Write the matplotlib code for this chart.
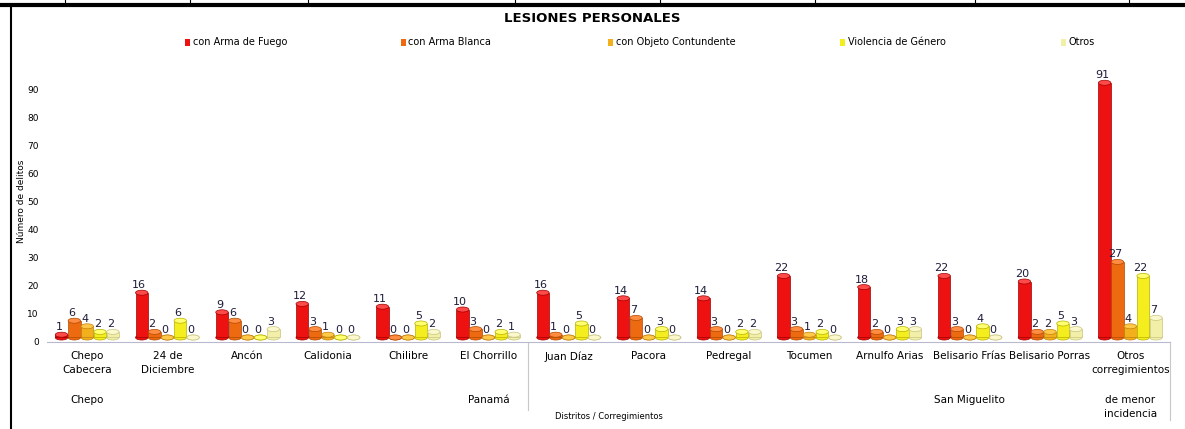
import numpy as np
import matplotlib.pyplot as plt
from matplotlib.patches import Rectangle, Ellipse
from matplotlib.lines import Line2D
from matplotlib.transforms import blended_transform_factory

# ---- data ----
corregimientos = ["Chepo\nCabecera", "24 de\nDiciembre", "Ancón", "Calidonia", "Chilibre",
                  "El Chorrillo", "Juan Díaz", "Pacora", "Pedregal", "Tocumen",
                  "Arnulfo Arias", "Belisario Frías", "Belisario Porras",
                  "Otros\ncorregimientos"]
series_names = ["con Arma de Fuego", "con Arma Blanca", "con Objeto Contundente",
                "Violencia de Género", "Otros"]
arma_fuego   = [1, 16, 9, 12, 11, 10, 16, 14, 14, 22, 18, 22, 20, 91]
arma_blanca  = [6, 2, 6, 3, 0, 3, 1, 7, 3, 3, 2, 3, 2, 27]
contundente  = [4, 0, 0, 1, 0, 0, 0, 0, 0, 1, 0, 0, 2, 4]
violencia    = [2, 6, 0, 0, 5, 2, 5, 3, 2, 2, 3, 4, 5, 22]
otros        = [2, 0, 3, 0, 2, 1, 0, 0, 2, 0, 3, 0, 3, 7]
distritos    = ["Chepo", "Panamá", "San Miguelito", "de menor\nincidencia"]
distrito_pos = [0, 5, 11, 13]

series = [arma_fuego, arma_blanca, contundente, violencia, otros]
colors = ["#EE1111", "#EE6A10", "#F2B01C", "#F4EE1E", "#F2EFA8"]
edges  = ["#A00000", "#B04800", "#C08010", "#B8B000", "#C8C480"]
tops   = ["#FF4A4A", "#FF8C40", "#FFC848", "#FFFF70", "#FAF8CC"]

plt.rcParams['font.family'] = ['Liberation Sans Narrow', 'DejaVu Sans']

fig = plt.figure(figsize=(11.85, 4.29), dpi=100)
ax = fig.add_axes([0.0397, 0.2035, 0.948, 0.6525])

x = np.arange(len(corregimientos))
w = 0.155
step = 0.16
base = 1.5  # 3D floor offset like the Excel chart
for i, (vals, c) in enumerate(zip(series, colors)):
    xs = x + (i - 2) * step
    vals = np.array(vals)
    ax.bar(xs, vals, width=w, bottom=base, color=c, edgecolor=edges[i], linewidth=0.5, zorder=3)
    for xx, v in zip(xs, vals):
        # cylinder ends
        ax.add_patch(Ellipse((xx, base), w, 1.8, facecolor=c, edgecolor=edges[i],
                             linewidth=0.5, zorder=2.9))
        ax.add_patch(Ellipse((xx, v + base), w, 1.8, facecolor=tops[i], edgecolor=edges[i],
                             linewidth=0.5, zorder=4))
        ax.text(xx - 0.03, v + base + 0.9, str(v), ha='center', va='bottom',
                fontsize=8, color='#1c1c3a', zorder=5)

ax.set_xlim(-0.5, 13.5)
ax.set_ylim(0, 100)
ax.set_yticks(range(0, 100, 10))
ax.tick_params(axis='y', length=0, labelsize=6.5, pad=6)
ax.set_xticks(x)
ax.set_xticklabels(corregimientos, fontsize=7.5, linespacing=1.5)
ax.tick_params(axis='x', length=0, pad=7)
for s in ['top', 'right', 'left']:
    ax.spines[s].set_visible(False)
ax.spines['bottom'].set_color('#b8b8d0')
ax.spines['bottom'].set_linewidth(0.8)

ax.set_ylabel("Número de delitos", fontsize=6.5, labelpad=1)
ax.set_xlabel("Distritos / Corregimientos", fontsize=6, labelpad=26)

trans = blended_transform_factory(ax.transData, ax.transAxes)
for name, p in zip(distritos, distrito_pos):
    ax.text(p, -0.19, name, transform=trans, ha='center', va='top', fontsize=7.5,
            linespacing=1.5)
ax.plot([5.5, 5.5], [0, -0.245], transform=trans, color='#c8c8c8', lw=0.8, clip_on=False)
ax.plot([13.5, 13.5], [0, -0.28], transform=trans, color='#c8c8c8', lw=0.8, clip_on=False)

fig.text(0.5, 0.958, "LESIONES PERSONALES", ha='center', va='center', fontsize=9.5,
         fontweight='bold')

# legend placed like the original
leg_x = [0.156, 0.338, 0.513, 0.709, 0.895]
for lx, name, c in zip(leg_x, series_names, colors):
    fig.patches.append(Rectangle((lx, 0.893), 0.0045, 0.017, transform=fig.transFigure,
                                 facecolor=c, edgecolor='none'))
    fig.text(lx + 0.0065, 0.901, name, ha='left', va='center', fontsize=7)

# scan border
fig.lines.append(Line2D([0, 1], [0.989, 0.989], transform=fig.transFigure, color='black', lw=3))
fig.lines.append(Line2D([0.0093, 0.0093], [0, 0.989], transform=fig.transFigure, color='black', lw=1.5))
for bx in [0.055, 0.16, 0.26, 0.435, 0.557, 0.688, 0.823, 0.953]:
    fig.lines.append(Line2D([bx, bx], [0.989, 1.0], transform=fig.transFigure, color='black', lw=0.8))

fig.savefig("out.png", dpi=100)
